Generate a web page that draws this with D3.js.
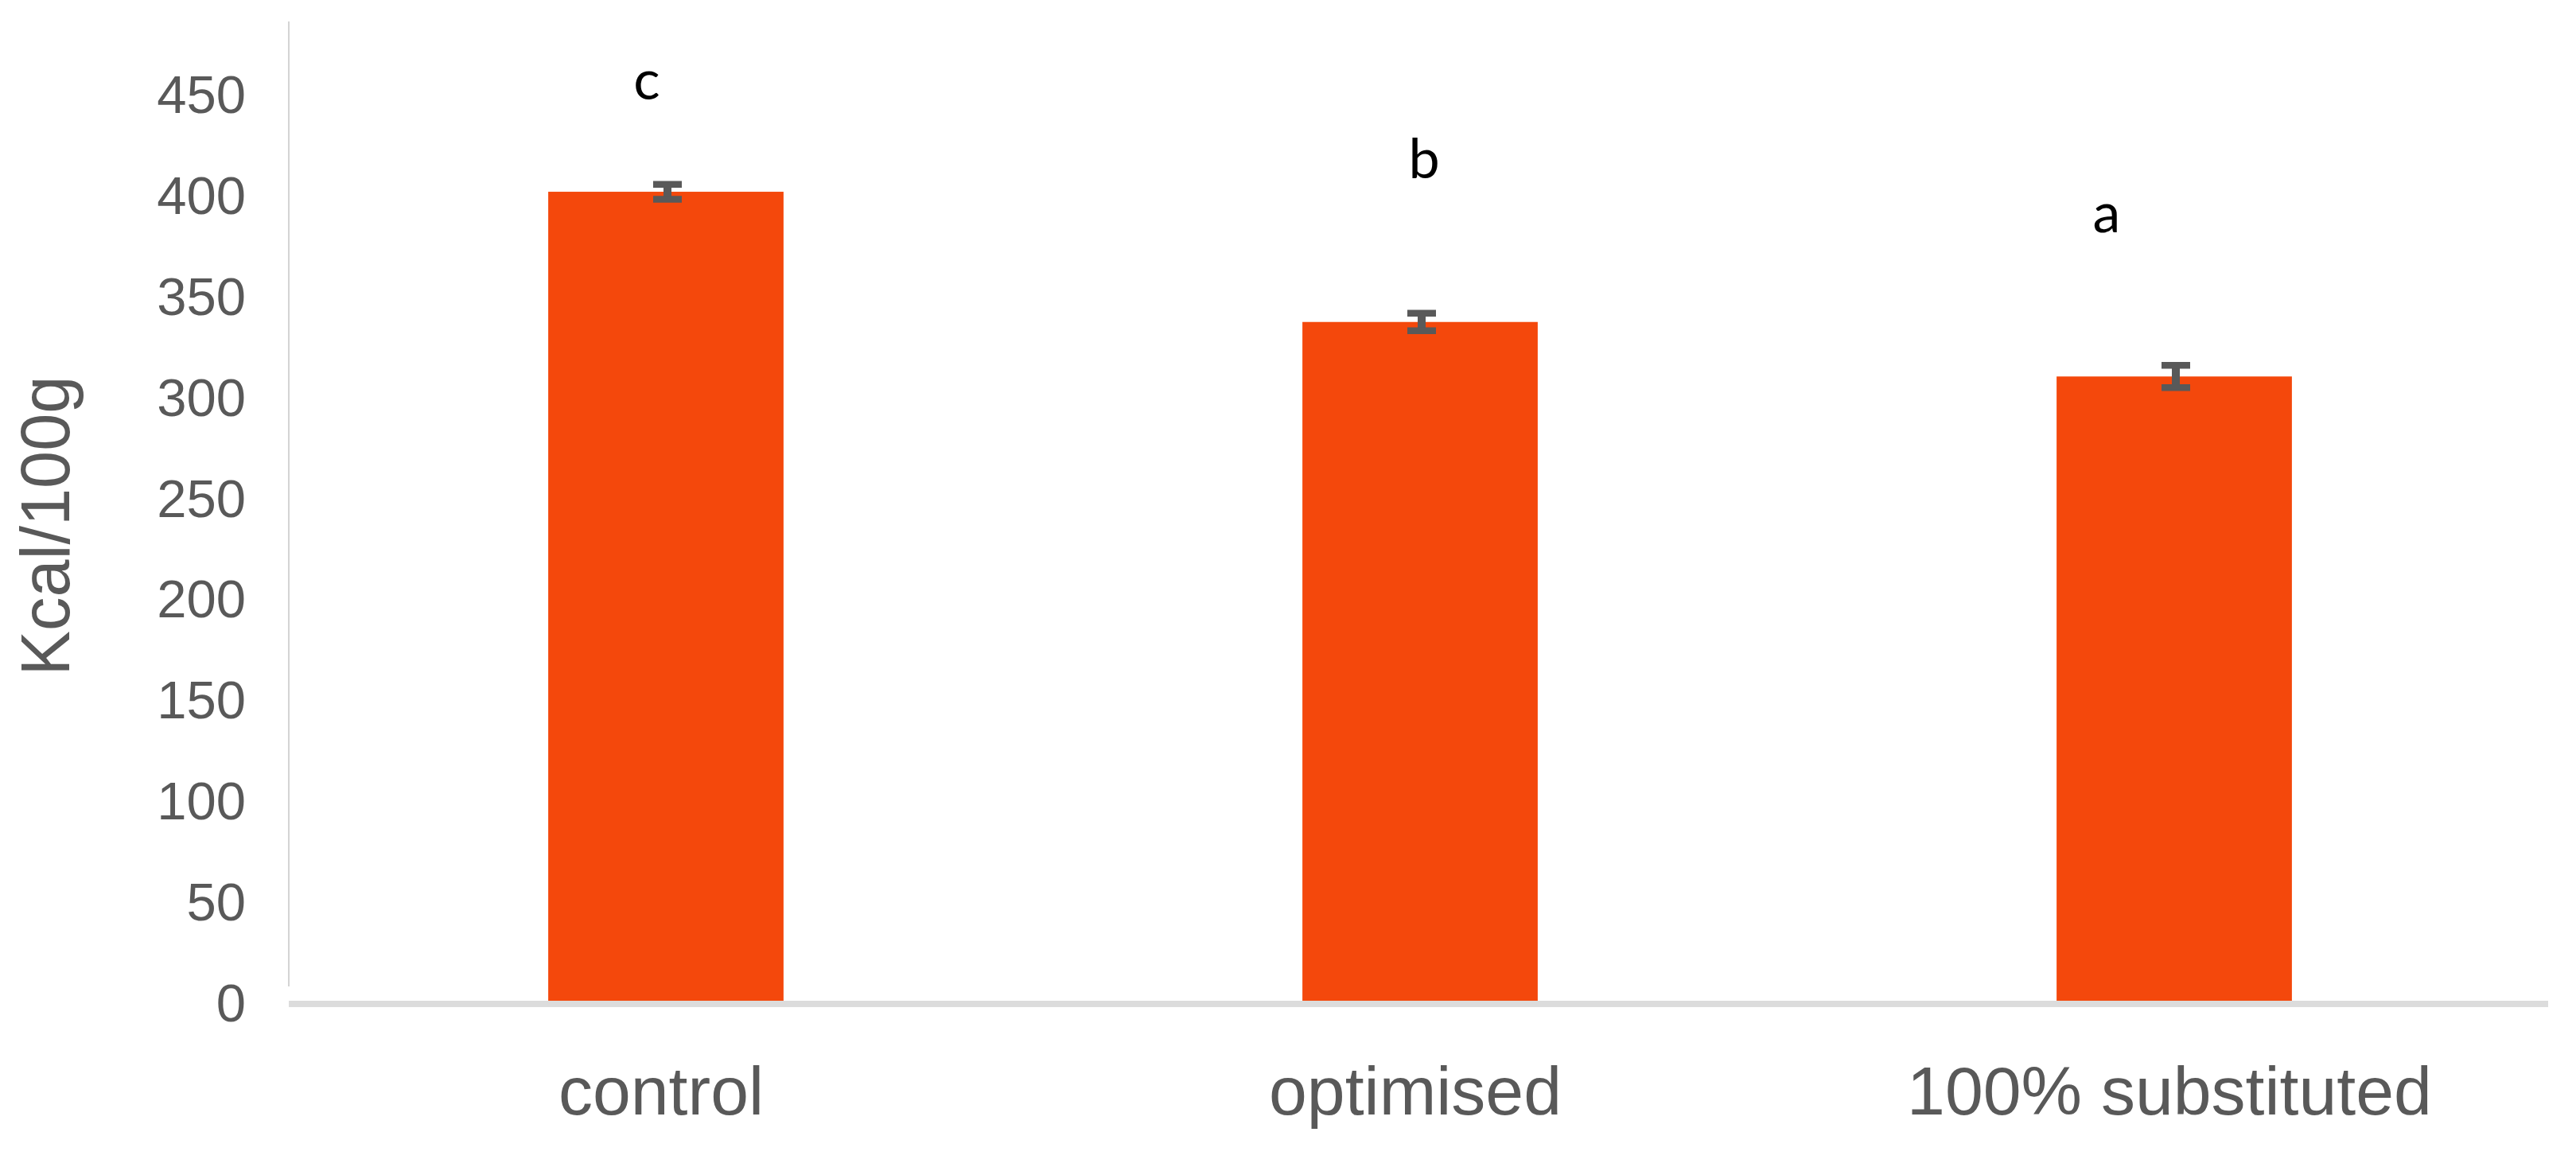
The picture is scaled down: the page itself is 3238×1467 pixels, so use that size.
<!DOCTYPE html>
<html>
<head>
<meta charset="utf-8">
<script src="https://cdn.jsdelivr.net/npm/d3@7"></script>
<style>
  html, body { margin: 0; padding: 0; background: #ffffff; }
  svg { display: block; }
</style>
</head>
<body>
<svg id="chart" width="3238" height="1467"></svg>
<script>
// ---- data ----
const categories = ["control", "optimised", "100% substituted"];
const values = [402.3, 337.8, 310.8];
const errors = [3.7, 4.3, 5.5];
const letters = ["c", "b", "a"];
const yTicks = [0, 50, 100, 150, 200, 250, 300, 350, 400, 450];
const yTitle = "Kcal/100g";

// ---- layout / style (kept separate from data) ----
const W = 3238, H = 1467;
const plotLeft = 363, plotRight = 3207;
const baseY = 1262, topTickY = 120, axisTopY = 27, yAxisBottomY = 1240;
const letterOffsets = [ {dx: -24, dy: -107}, {dx: 5, dy: -170}, {dx: -85, dy: -167} ];
const barColor = "#F4480C";
const textGray = "#595959";
const errColor = "#595959";

const svg = d3.select("#chart");
svg.append("rect").attr("width", W).attr("height", H).attr("fill", "#fff");

const x = d3.scaleBand().domain(categories).range([plotLeft, plotRight])
  .paddingInner(0.688).paddingOuter(0.344);
const y = d3.scaleLinear().domain([0, 450]).range([baseY, topTickY]);

// y axis line
svg.append("line")
  .attr("x1", plotLeft).attr("x2", plotLeft)
  .attr("y1", axisTopY).attr("y2", yAxisBottomY)
  .attr("stroke", "#d4d4d4").attr("stroke-width", 2);

// y axis ticks
const yAxis = d3.axisLeft(y).tickValues(yTicks).tickSize(0).tickPadding(54);
const gy = svg.append("g").attr("transform", `translate(${plotLeft},0)`).call(yAxis);
gy.select(".domain").remove();
gy.selectAll("text")
  .attr("fill", textGray)
  .style("font-family", "'Liberation Sans', Arial, sans-serif")
  .style("font-size", "67px");

// bars
const data = categories.map((c, i) => ({c, v: values[i], e: errors[i], l: letters[i], o: letterOffsets[i]}));
svg.append("g").selectAll("rect").data(data).join("rect")
  .attr("x", d => x(d.c))
  .attr("width", x.bandwidth())
  .attr("y", d => y(d.v))
  .attr("height", d => baseY - y(d.v))
  .attr("fill", barColor);

// x axis line
svg.append("line")
  .attr("x1", plotLeft).attr("x2", 3203)
  .attr("y1", baseY).attr("y2", baseY)
  .attr("stroke", "#dcdcdc").attr("stroke-width", 8);

// error bars
const eg = svg.append("g").attr("stroke", errColor);
data.forEach(d => {
  const cx = x(d.c) + x.bandwidth() / 2 + 2;
  const capW = 36;
  eg.append("line").attr("x1", cx).attr("x2", cx)
    .attr("y1", y(d.v + d.e)).attr("y2", y(d.v - d.e)).attr("stroke-width", 10);
  [d.v + d.e, d.v - d.e].forEach(val => {
    eg.append("line").attr("x1", cx - capW / 2).attr("x2", cx + capW / 2)
      .attr("y1", y(val)).attr("y2", y(val)).attr("stroke-width", 8.5);
  });
});

// significance letters
svg.append("g").selectAll("text").data(data).join("text")
  .attr("x", d => x(d.c) + x.bandwidth() / 2 + d.o.dx)
  .attr("y", d => y(d.v + d.e) + d.o.dy)
  .attr("text-anchor", "middle")
  .attr("fill", "#000")
  .style("font-family", "Lato, 'Open Sans', sans-serif")
  .style("font-size", "70px")
  .text(d => d.l);

// x axis labels
const xAxis = d3.axisBottom(x).tickSize(0).tickPadding(0);
const gx = svg.append("g").attr("transform", `translate(0,${baseY})`).call(xAxis);
gx.select(".domain").remove();
gx.selectAll("text")
  .attr("y", 139).attr("dy", 0)
  .attr("dx", -6)
  .attr("fill", textGray)
  .style("font-family", "'Liberation Sans', Arial, sans-serif")
  .style("font-size", "86px");

// y title
svg.append("text")
  .attr("transform", `translate(87,661) rotate(-90)`)
  .attr("text-anchor", "middle")
  .attr("fill", textGray)
  .attr("textLength", 377)
  .attr("lengthAdjust", "spacingAndGlyphs")
  .style("font-family", "'Liberation Sans', Arial, sans-serif")
  .style("font-size", "88px")
  .text(yTitle);
</script>
</body>
</html>
